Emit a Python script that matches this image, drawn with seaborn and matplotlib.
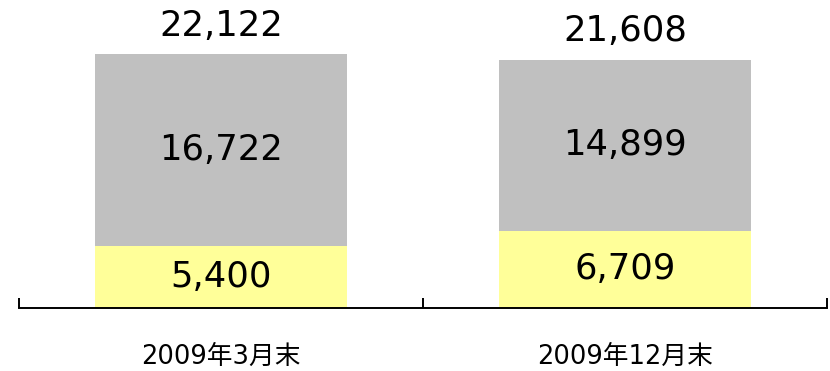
import matplotlib
matplotlib.use("Agg")
import matplotlib.pyplot as plt
import seaborn as sns
import pandas as pd

# Balance by period (two stacked components)
periods = ["2009年3月末", "2009年12月末"]
lower_vals = [5400, 6709]      # yellow segment
upper_vals = [16722, 14899]    # gray segment
totals = [a + b for a, b in zip(lower_vals, upper_vals)]

gray = "#C0C0C0"
yellow = "#FFFF99"

sns.set_theme(style="white")
plt.rcParams["font.family"] = ["DejaVu Sans", "Noto Sans CJK JP"]

df = pd.DataFrame({"period": periods, "lower": lower_vals,
                   "upper": upper_vals, "total": totals})

fig = plt.figure(figsize=(8.3, 3.71), dpi=100)
ax = fig.add_axes([19 / 830, 63 / 371, 808 / 830, 308 / 371])

bar_w = 0.626
sns.barplot(data=df, x="period", y="total", color=gray, width=bar_w,
            saturation=1, ax=ax, linewidth=0)
sns.barplot(data=df, x="period", y="lower", color=yellow, width=bar_w,
            saturation=1, ax=ax, linewidth=0)

ax.set_xlim(-0.5, 1.5)
ax.set_ylim(0, 26830)
ax.set_xlabel("")
ax.set_ylabel("")
ax.set_yticks([])

for s in ["top", "left", "right"]:
    ax.spines[s].set_visible(False)
ax.spines["bottom"].set_color("black")
ax.spines["bottom"].set_linewidth(1.4)

# category labels without ticks; boundary ticks pointing up
ax.set_xticks(range(len(periods)))
ax.set_xticklabels(periods, fontsize=18.5, color="black")
ax.tick_params(axis="x", which="major", length=0, pad=26)
ax.set_xticks([-0.5, 0.5, 1.5], minor=True)
ax.tick_params(axis="x", which="minor", direction="in", length=7,
               width=1.4, color="black", bottom=True)

num_fs = 25.5
for i, (lo, up, tot) in enumerate(zip(lower_vals, upper_vals, totals)):
    ax.text(i, lo / 2, f"{lo:,}", ha="center", va="center",
            fontsize=num_fs, color="black")
    ax.text(i, lo + up / 2, f"{up:,}", ha="center", va="center",
            fontsize=num_fs, color="black")
    ax.annotate(f"{tot:,}", xy=(i, tot), xytext=(0, 20.5),
                textcoords="offset points", ha="center", va="center",
                fontsize=num_fs, color="black")

fig.savefig("out.png", dpi=100)
